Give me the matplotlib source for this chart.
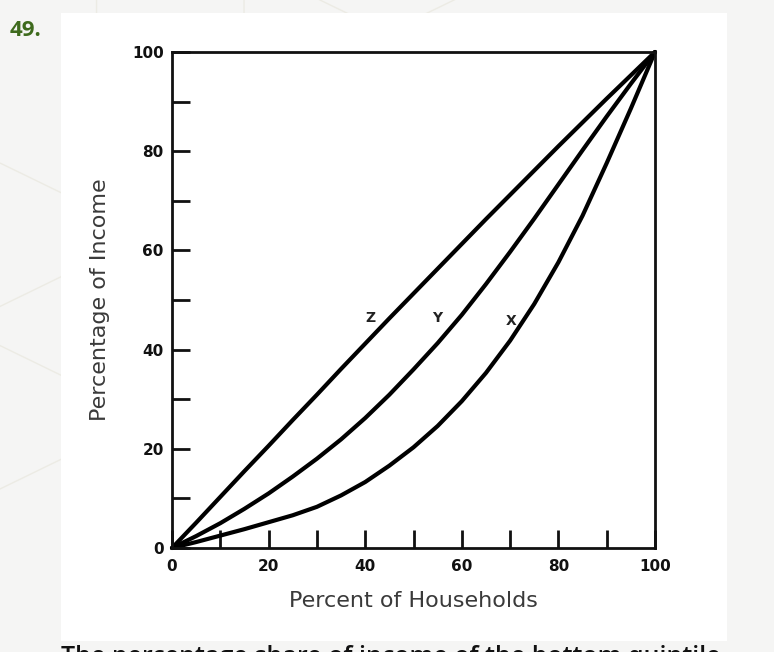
import matplotlib.pyplot as plt
from matplotlib.patches import Rectangle, RegularPolygon

# values (percent of households -> percentage of income)
households = [0, 5, 10, 15, 20, 25, 30, 35, 40, 45, 50,
              55, 60, 65, 70, 75, 80, 85, 90, 95, 100]
curve_z = [0, 5.1, 10.3, 15.5, 20.6, 25.8, 30.9, 36.1, 41.2, 46.3, 51.3,
           56.3, 61.3, 66.3, 71.2, 76.1, 81, 85.8, 90.6, 95.3, 100]
curve_y = [0, 2.4, 5, 7.9, 11, 14.4, 18, 21.9, 26.2, 30.9, 36,
           41.3, 47, 53.2, 59.7, 66.4, 73.3, 80.2, 87, 93.6, 100]
curve_x = [0, 1.2, 2.5, 3.8, 5.2, 6.6, 8.3, 10.6, 13.3, 16.6, 20.3,
           24.6, 29.6, 35.3, 41.8, 49.2, 57.6, 67, 77.6, 88.6, 100]

curve_names = ['Z', 'Y', 'X']
name_pos_x = [41, 55, 70.2]
name_pos_y = [46.4, 46.4, 45.8]

ticks = [0, 20, 40, 60, 80, 100]
minor = [10, 30, 50, 70, 90]

fig = plt.figure(figsize=(7.74, 6.52), dpi=100)
fig.patch.set_facecolor('#f5f5f4')

# faint hexagon pattern of the page behind the panel
for cx, cy in [(0.0, 0.64), (0.0, 0.36), (0.22, 1.03), (0.5, 1.06)]:
    fig.patches.append(RegularPolygon((cx, cy), 6, radius=0.11, orientation=0,
                                      transform=fig.transFigure, fill=False,
                                      edgecolor='#ecebe4', lw=1.0))

# white panel holding the chart
fig.patches.append(Rectangle((61 / 774, 1 - 641 / 652), 666 / 774, 628 / 652,
                             transform=fig.transFigure, facecolor='white',
                             edgecolor='none', zorder=1))

fig.text(10 / 774, 1 - 30 / 652, '49.', fontsize=16, fontweight='bold',
         color='#3e6a1d', family='Open Sans', va='center')

ax = fig.add_axes([172 / 774, 1 - 548 / 652, 483 / 774, 496 / 652])
ax.set_facecolor('white')
ax.set_zorder(2)

for ys in [curve_z, curve_y, curve_x]:
    ax.plot(households, ys, color='black', lw=3.0, solid_joinstyle='round',
            solid_capstyle='round', clip_on=False)

for name, px, py in zip(curve_names, name_pos_x, name_pos_y):
    ax.text(px, py, name, fontsize=10, fontweight='bold', color='#222222',
            ha='center', va='center')

ax.set_xlim(0, 100)
ax.set_ylim(0, 100)
ax.set_xticks(ticks)
ax.set_yticks(ticks)
ax.set_xticks(minor, minor=True)
ax.set_yticks(minor, minor=True)
ax.tick_params(which='both', direction='in', length=13, width=2.0,
               color='#111111', labelsize=11, pad=6)
ax.tick_params(axis='x', which='major', pad=8)
for lab in ax.get_xticklabels() + ax.get_yticklabels():
    lab.set_fontweight('bold')
    lab.set_color('#111111')

for sp in ax.spines.values():
    sp.set_linewidth(2.0)
    sp.set_color('#111111')

ax.set_xlabel('Percent of Households', fontsize=16, color='#3a3a3a', labelpad=12)
ax.set_ylabel('Percentage of Income', fontsize=16, color='#3a3a3a', labelpad=16)

# first line of the question text, cut by the bottom edge as in the page
fig.text(61 / 774, 1 - 645 / 652, 'The percentage share of income of the bottom quintile',
         fontsize=18, color='#111111', family='Open Sans', fontweight='semibold',
         va='top')

fig.savefig('out.png', dpi=100, facecolor=fig.get_facecolor())
